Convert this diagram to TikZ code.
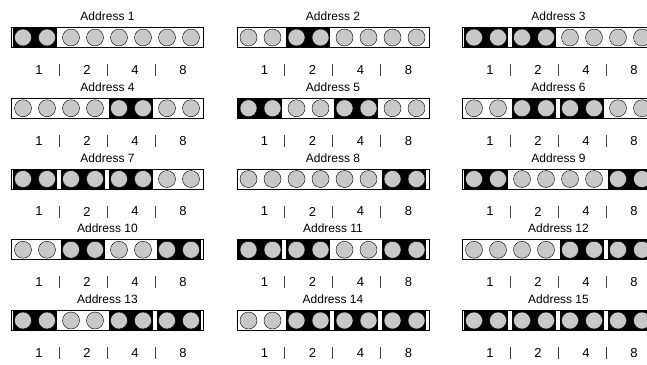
\documentclass[tikz,border=0pt]{standalone}
\usepackage{fontspec}
\setmainfont{Liberation Sans}
\usetikzlibrary{positioning,calc}
\definecolor{pingray}{RGB}{200,200,200}

\begin{document}
\begin{tikzpicture}[x=1pt, y=1pt,
  header/.style={font=\fontsize{12}{13}\selectfont, inner sep=0pt},
  digit/.style={font=\fontsize{13}{14}\selectfont, inner sep=0pt},
  strip/.style={draw=black, line width=1pt, fill=white, minimum width=192pt, minimum height=20pt, inner sep=0pt},
  jumper/.style={fill=black, minimum width=44pt, minimum height=19pt, inner sep=0pt},
  pin/.style={circle, draw=black, line width=0.4pt, fill=pingray, minimum size=17pt, inner sep=0pt},
  divider/.style={draw=black!75, line width=0.8pt}]
\useasboundingbox (0,0) rectangle (647,-364);
\clip (0,0) rectangle (647,-364);
\foreach \n in {1,...,15}{
  \pgfmathtruncatemacro{\row}{(\n-1)/3}
  \pgfmathtruncatemacro{\col}{mod(\n-1,3)}
  \node[strip, anchor=north west] (s\n) at (11+225.5*\col, -27-70.75*\row) {};
  \node[header, above=6pt of s\n] (t\n) {Address \n};
  \foreach \k/\v in {0/1,1/2,2/4,3/8}{
    \pgfmathtruncatemacro{\on}{mod(floor(\n/\v),2)}
    \ifnum\on=1
      \node[jumper] (j\n-\k) at ($(s\n.west)+(23.5+48*\k,0)$) {};
    \fi
    \node[pin] (p\n-\k a) at ($(s\n.west)+(12+48*\k,0)$) {};
    \node[pin] (p\n-\k b) at ($(s\n.west)+(36+48*\k,0)$) {};
    \node[digit] (d\n-\k) at ($(s\n.south west)+(28+48*\k,-22)$) {\v};
  }
  \foreach \k in {1,2,3}
    \draw[divider] ($(s\n.south west)+(48*\k,-16)$) -- ++(0,-12);
}
\end{tikzpicture}
\end{document}
